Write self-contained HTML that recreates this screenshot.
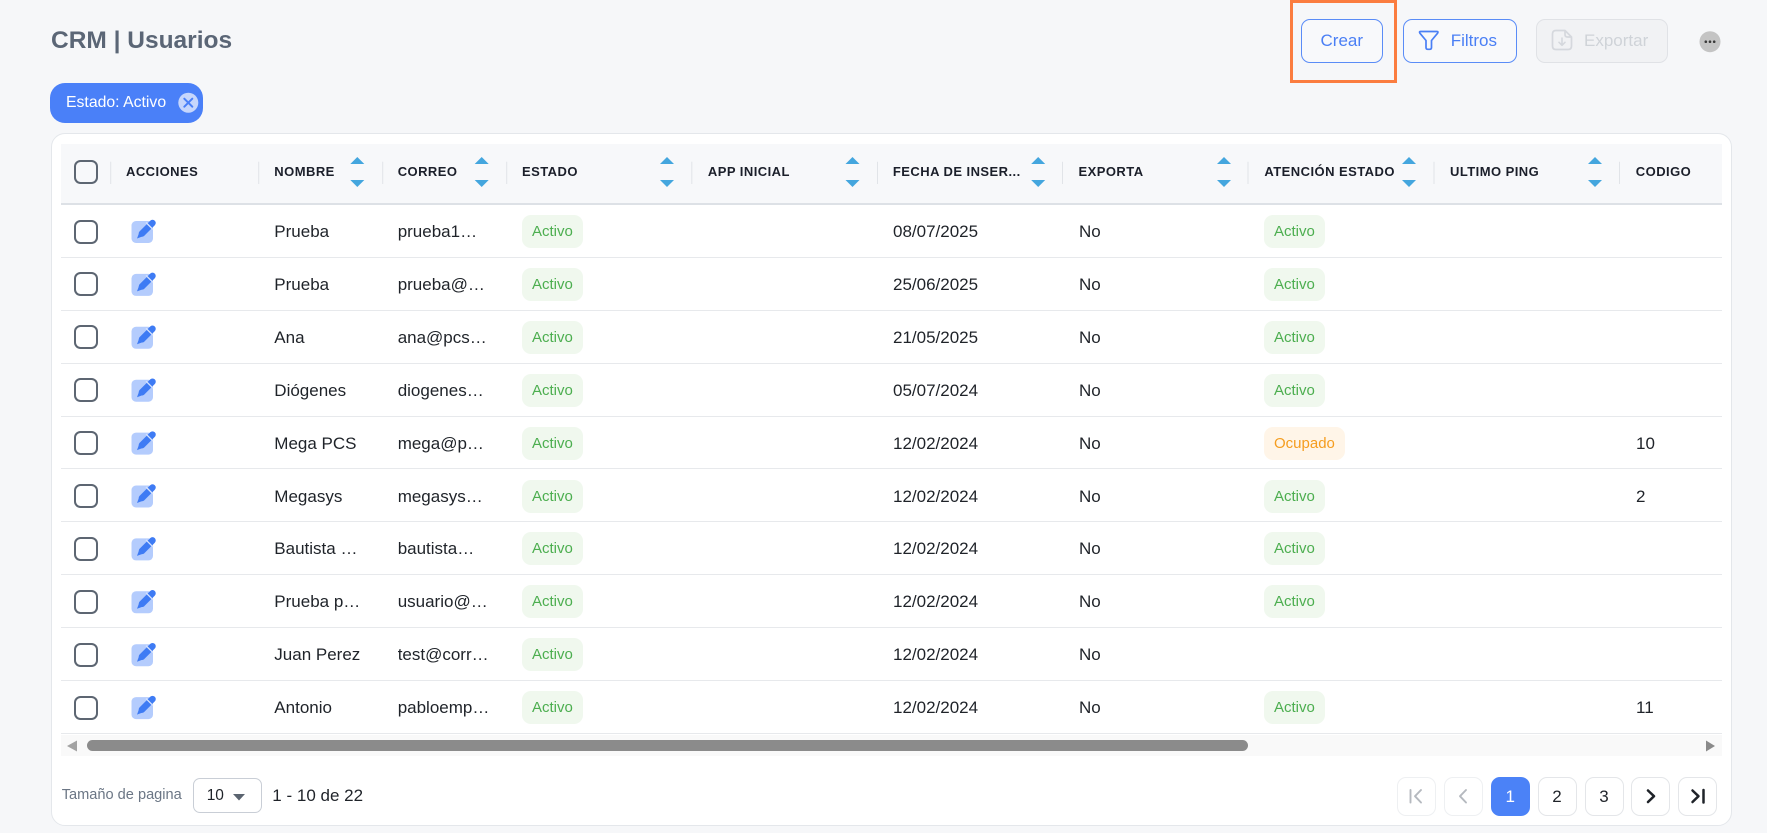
<!DOCTYPE html>
<html><head><meta charset="utf-8">
<style>
html,body{margin:0;padding:0;}
body{width:1767px;height:833px;overflow:hidden;background:#f6f7f9;position:relative;font-family:"Liberation Sans",Arial,sans-serif;}
.a{position:absolute;white-space:nowrap;}
.title{left:51px;top:25.5px;line-height:30px;font-size:24.5px;font-weight:bold;color:#5b6676;}
.chip{left:50px;top:83px;width:153px;height:40px;border-radius:15px;background:#4a80f8;}
.chip span{position:absolute;left:16px;top:0;line-height:40px;font-size:15.8px;color:#fff;}
.btn{box-sizing:border-box;border:1px solid #5a8cf7;border-radius:9px;background:#f8f9fb;color:#4a7ff5;font-size:17px;}
.card{left:51px;top:133px;width:1681px;height:693px;box-sizing:border-box;border:1px solid #e4e7eb;border-radius:14px;background:#fff;}
.hbg{left:61px;top:144px;width:1661px;height:59px;background:#f7f8fa;border-bottom:2.5px solid #dde1e6;}
.ht{top:144px;line-height:55px;font-size:13px;font-weight:bold;letter-spacing:0.45px;color:#1b1f2a;}
.row{position:absolute;left:61px;width:1661px;height:52.9px;box-sizing:border-box;border-bottom:1px solid #e7e9ec;}
.row .t{position:absolute;top:0;line-height:53px;font-size:17px;color:#1f2329;white-space:nowrap;}
.cb{position:absolute;left:13px;top:14.5px;width:24px;height:24px;box-sizing:border-box;border:2px solid #5d6672;border-radius:6.5px;}
.bd{position:absolute;top:10px;height:33px;line-height:33px;padding:0 10px;border-radius:9px;font-size:15px;}
.ok{background:#f0f8ee;color:#4cae4f;}
.busy{background:#fff5e8;color:#f59d1f;}
.track{left:61px;top:735px;width:1661px;height:21px;background:#f9f9f9;}
.thumb{left:86.7px;top:740px;width:1161px;height:11px;border-radius:5.5px;background:#8b8b8b;}
.pb{top:776.7px;width:39px;height:39px;box-sizing:border-box;border:1px solid #e4e6e9;border-radius:9px;background:#fff;text-align:center;line-height:37px;font-size:17px;color:#1f2329;}
.pd{border-color:#eef0f2;}
</style></head><body>

<div class="a title">CRM | Usuarios</div>

<div class="a chip"><span>Estado: Activo</span></div>

<div class="a btn" style="left:1301px;top:19.3px;width:81.6px;height:43.4px;line-height:41.4px;text-align:center;">Crear</div>
<div class="a btn" style="left:1403.3px;top:19.3px;width:113.4px;height:43.4px;"><span style="position:absolute;left:46.4px;top:0;line-height:41.4px;">Filtros</span></div>
<div class="a btn" style="left:1536px;top:19.3px;width:131.7px;height:43.4px;background:#f1f2f4;border-color:#e0e2e6;color:#cfd3d8;"><span style="position:absolute;left:47px;top:0;line-height:41.4px;">Exportar</span></div>
<div class="a" style="left:1289.7px;top:0;width:107.3px;height:82.7px;box-sizing:border-box;border:3px solid #fb7d40;"></div>

<div class="a card"></div>
<div class="a hbg"></div>

<div class="a ht" style="left:126px;">ACCIONES</div>
<div class="a ht" style="left:274.3px;">NOMBRE</div>
<div class="a ht" style="left:397.7px;">CORREO</div>
<div class="a ht" style="left:522px;">ESTADO</div>
<div class="a ht" style="left:707.9px;">APP INICIAL</div>
<div class="a ht" style="left:892.9px;">FECHA DE INSER...</div>
<div class="a ht" style="left:1078.5px;">EXPORTA</div>
<div class="a ht" style="left:1264.4px;">ATENCIÓN ESTADO</div>
<div class="a ht" style="left:1450px;">ULTIMO PING</div>
<div class="a ht" style="left:1635.8px;">CODIGO</div>
<div class="a" style="left:74px;top:159.5px;width:24px;height:24px;box-sizing:border-box;border:2px solid #5d6672;border-radius:6.5px;"></div>

<div class="row" style="top:205px;"><div class="cb"></div><div class="t" style="left:213.3px">Prueba</div><div class="t" style="left:336.7px">prueba1…</div><div class="bd ok" style="left:461px">Activo</div><div class="t" style="left:832px">08/07/2025</div><div class="t" style="left:1018px">No</div><div class="bd ok" style="left:1203px">Activo</div></div>
<div class="row" style="top:257.9px;"><div class="cb"></div><div class="t" style="left:213.3px">Prueba</div><div class="t" style="left:336.7px">prueba@…</div><div class="bd ok" style="left:461px">Activo</div><div class="t" style="left:832px">25/06/2025</div><div class="t" style="left:1018px">No</div><div class="bd ok" style="left:1203px">Activo</div></div>
<div class="row" style="top:310.8px;"><div class="cb"></div><div class="t" style="left:213.3px">Ana</div><div class="t" style="left:336.7px">ana@pcs…</div><div class="bd ok" style="left:461px">Activo</div><div class="t" style="left:832px">21/05/2025</div><div class="t" style="left:1018px">No</div><div class="bd ok" style="left:1203px">Activo</div></div>
<div class="row" style="top:363.7px;"><div class="cb"></div><div class="t" style="left:213.3px">Diógenes</div><div class="t" style="left:336.7px">diogenes…</div><div class="bd ok" style="left:461px">Activo</div><div class="t" style="left:832px">05/07/2024</div><div class="t" style="left:1018px">No</div><div class="bd ok" style="left:1203px">Activo</div></div>
<div class="row" style="top:416.6px;"><div class="cb"></div><div class="t" style="left:213.3px">Mega PCS</div><div class="t" style="left:336.7px">mega@p…</div><div class="bd ok" style="left:461px">Activo</div><div class="t" style="left:832px">12/02/2024</div><div class="t" style="left:1018px">No</div><div class="bd busy" style="left:1203px">Ocupado</div><div class="t" style="left:1575px">10</div></div>
<div class="row" style="top:469.5px;"><div class="cb"></div><div class="t" style="left:213.3px">Megasys</div><div class="t" style="left:336.7px">megasys…</div><div class="bd ok" style="left:461px">Activo</div><div class="t" style="left:832px">12/02/2024</div><div class="t" style="left:1018px">No</div><div class="bd ok" style="left:1203px">Activo</div><div class="t" style="left:1575px">2</div></div>
<div class="row" style="top:522.4px;"><div class="cb"></div><div class="t" style="left:213.3px">Bautista …</div><div class="t" style="left:336.7px">bautista…</div><div class="bd ok" style="left:461px">Activo</div><div class="t" style="left:832px">12/02/2024</div><div class="t" style="left:1018px">No</div><div class="bd ok" style="left:1203px">Activo</div></div>
<div class="row" style="top:575.3px;"><div class="cb"></div><div class="t" style="left:213.3px">Prueba p…</div><div class="t" style="left:336.7px">usuario@…</div><div class="bd ok" style="left:461px">Activo</div><div class="t" style="left:832px">12/02/2024</div><div class="t" style="left:1018px">No</div><div class="bd ok" style="left:1203px">Activo</div></div>
<div class="row" style="top:628.2px;"><div class="cb"></div><div class="t" style="left:213.3px">Juan Perez</div><div class="t" style="left:336.7px">test@corr…</div><div class="bd ok" style="left:461px">Activo</div><div class="t" style="left:832px">12/02/2024</div><div class="t" style="left:1018px">No</div></div>
<div class="row" style="top:681.1px;"><div class="cb"></div><div class="t" style="left:213.3px">Antonio</div><div class="t" style="left:336.7px">pabloemp…</div><div class="bd ok" style="left:461px">Activo</div><div class="t" style="left:832px">12/02/2024</div><div class="t" style="left:1018px">No</div><div class="bd ok" style="left:1203px">Activo</div><div class="t" style="left:1575px">11</div></div>

<div class="a track"></div>
<div class="a thumb"></div>

<div class="a" style="left:61.7px;top:783px;line-height:25px;font-size:14.6px;color:#6b7685;">Tamaño de pagina</div>
<div class="a" style="left:193.3px;top:778.3px;width:68.4px;height:35px;box-sizing:border-box;border:1px solid #c9ced6;border-radius:7px;background:#fff;"><span style="position:absolute;left:12.4px;top:0;line-height:33px;font-size:15.5px;color:#1f2329;">10</span></div>
<div class="a" style="left:272.3px;top:783px;line-height:25px;font-size:17px;color:#1f2329;">1 - 10 de 22</div>

<div class="a pb pd" style="left:1396.7px;"></div>
<div class="a pb pd" style="left:1443.5px;"></div>
<div class="a pb" style="left:1490.7px;background:#4b82f7;border-color:#4b82f7;color:#fff;">1</div>
<div class="a pb" style="left:1537.5px;">2</div>
<div class="a pb" style="left:1584.5px;">3</div>
<div class="a pb" style="left:1631.3px;"></div>
<div class="a pb" style="left:1678.3px;"></div>

<svg class="a" style="left:0;top:0;" width="1767" height="833" viewBox="0 0 1767 833">
<defs>
<g id="ed">
<rect x="0" y="3" width="21.5" height="22" rx="4.5" fill="#b4ccfd"/>
<line x1="10.5" y1="15.5" x2="21" y2="5" stroke="#3e7bf4" stroke-width="6.5" stroke-linecap="round"/>
<polygon points="5.5,20.5 8.2,13.2 12.8,17.8" fill="#3e7bf4"/>
<line x1="14.5" y1="4.5" x2="21.5" y2="11.5" stroke="#d6e3fe" stroke-width="1.3"/>
</g>
<g id="ar">
<polygon points="-7,164 7,164 0,157" fill="#44a6de"/>
<polygon points="-7,180 7,180 0,187" fill="#44a6de"/>
</g>
</defs>
<!-- chip close -->
<circle cx="188.3" cy="102.7" r="10" fill="#c6d6fc"/>
<path d="M184.3 98.7 L192.3 106.7 M192.3 98.7 L184.3 106.7" stroke="#4a80f8" stroke-width="2" stroke-linecap="round"/>
<!-- filter icon -->
<path d="M1420.5 31.5 H1437 Q1438.6 31.5 1437.6 33.2 L1431.5 40.5 V47.5 Q1431.5 49.3 1429.7 49.3 H1427.8 Q1426 49.3 1426 47.5 V40.5 L1419.9 33.2 Q1418.9 31.5 1420.5 31.5 Z" fill="none" stroke="#4a7ff5" stroke-width="1.7" stroke-linejoin="round"/>
<!-- export icon -->
<path d="M1556 30.5 H1565 L1571.5 37 V46 Q1571.5 49.5 1568 49.5 H1556 Q1552.5 49.5 1552.5 46 V34 Q1552.5 30.5 1556 30.5 Z M1565 30.5 V34.5 Q1565 37 1567.5 37 H1571.5" fill="none" stroke="#d5d8dd" stroke-width="1.7" stroke-linejoin="round"/>
<path d="M1562 38 V45 M1559 42.3 L1562 45.3 L1565 42.3" fill="none" stroke="#d5d8dd" stroke-width="1.6" stroke-linecap="round" stroke-linejoin="round"/>
<!-- dots -->
<circle cx="1710" cy="41.7" r="10.5" fill="#c4c4c4"/>
<circle cx="1705.8" cy="41.7" r="1.3" fill="#3a3a3a"/>
<circle cx="1710" cy="41.7" r="1.3" fill="#3a3a3a"/>
<circle cx="1714.2" cy="41.7" r="1.3" fill="#3a3a3a"/>
<!-- header dividers -->
<g stroke="#e1e4e8" stroke-width="1">
<line x1="110.7" y1="161.7" x2="110.7" y2="184"/>
<line x1="258.7" y1="161.7" x2="258.7" y2="184"/>
<line x1="382.7" y1="161.7" x2="382.7" y2="184"/>
<line x1="506.7" y1="161.7" x2="506.7" y2="184"/>
<line x1="691.8" y1="161.7" x2="691.8" y2="184"/>
<line x1="877.5" y1="161.7" x2="877.5" y2="184"/>
<line x1="1062.5" y1="161.7" x2="1062.5" y2="184"/>
<line x1="1248" y1="161.7" x2="1248" y2="184"/>
<line x1="1434" y1="161.7" x2="1434" y2="184"/>
<line x1="1619.5" y1="161.7" x2="1619.5" y2="184"/>
</g>
<!-- sort arrows -->
<use href="#ar" transform="translate(357.3,0)"/>
<use href="#ar" transform="translate(481.7,0)"/>
<use href="#ar" transform="translate(667,0)"/>
<use href="#ar" transform="translate(852.5,0)"/>
<use href="#ar" transform="translate(1038.2,0)"/>
<use href="#ar" transform="translate(1224,0)"/>
<use href="#ar" transform="translate(1409,0)"/>
<use href="#ar" transform="translate(1595,0)"/>
<!-- edit icons -->
<use href="#ed" transform="translate(131.5,218)"/>
<use href="#ed" transform="translate(131.5,270.9)"/>
<use href="#ed" transform="translate(131.5,323.8)"/>
<use href="#ed" transform="translate(131.5,376.7)"/>
<use href="#ed" transform="translate(131.5,429.6)"/>
<use href="#ed" transform="translate(131.5,482.5)"/>
<use href="#ed" transform="translate(131.5,535.4)"/>
<use href="#ed" transform="translate(131.5,588.3)"/>
<use href="#ed" transform="translate(131.5,641.2)"/>
<use href="#ed" transform="translate(131.5,694.1)"/>
<!-- scroll arrows -->
<polygon points="77,740.5 77,751.5 67,746" fill="#a3a3a3"/>
<polygon points="1706,740.5 1706,751.5 1715,746" fill="#8a8a8a"/>
<!-- select arrow -->
<polygon points="233,794 245,794 239,800.5" fill="#5b6470"/>
<!-- pagination icons -->
<g fill="none" stroke-linecap="round" stroke-linejoin="round">
<path d="M1410.5 790 V802.5 M1421 790 L1415 796.2 L1421 802.5" stroke="#b5b9bf" stroke-width="1.9"/>
<path d="M1466 790 L1460 796.2 L1466 802.5" stroke="#b5b9bf" stroke-width="1.9"/>
<path d="M1648 790.5 L1654 796.2 L1648 802" stroke="#1f2329" stroke-width="2.5"/>
<path d="M1692.5 790.5 L1698.5 796.2 L1692.5 802 M1703.5 790 V802.5" stroke="#1f2329" stroke-width="2.5"/>
</g>
</svg>
</body></html>
